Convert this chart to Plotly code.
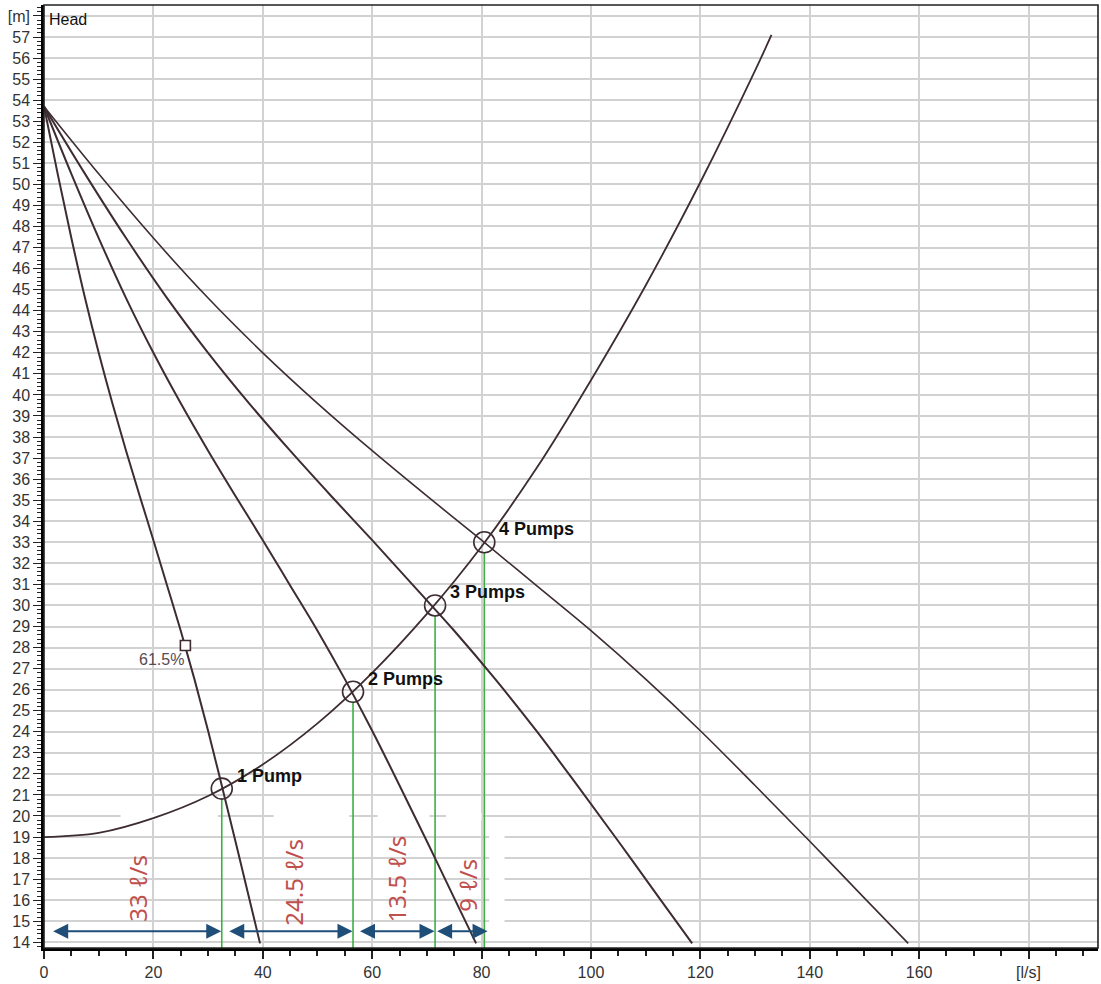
import plotly.graph_objects as go

# ---- data -------------------------------------------------------------
# Pump curves (head in m vs. flow in l/s) for 1..4 identical pumps in parallel
q_1pump = [0, 2.5, 5, 7.5, 10, 12.5, 15, 17.5, 20, 22.5, 25, 27.5, 30, 32.5, 35, 37.5, 39.5]
q_2pump = [0, 5, 10, 15, 20, 25, 30, 35, 40, 45, 50, 55, 60, 65, 70, 75, 79]
q_3pump = [0, 7.5, 15, 22.5, 30, 37.5, 45, 52.5, 60, 67.5, 75, 82.5, 90, 97.5, 105, 112.5, 118.5]
q_4pump = [0, 10, 20, 30, 40, 50, 60, 70, 80, 90, 100, 110, 120, 130, 140, 150, 158]
h_1pump = [53.7, 50.5, 47.45, 44.6, 42.0, 39.6, 37.35, 35.2, 33.1, 30.95, 28.8, 26.5, 24.05, 21.45, 18.8, 16.1, 13.95]
h_2pump = [53.7, 50.5, 47.45, 44.6, 42.0, 39.6, 37.35, 35.2, 33.1, 30.95, 28.8, 26.5, 24.05, 21.45, 18.8, 16.1, 13.95]
h_3pump = [53.7, 50.5, 47.45, 44.6, 42.0, 39.6, 37.35, 35.2, 33.1, 30.95, 28.8, 26.5, 24.05, 21.45, 18.8, 16.1, 13.95]
h_4pump = [53.7, 50.5, 47.45, 44.6, 42.0, 39.6, 37.35, 35.2, 33.1, 30.95, 28.8, 26.5, 24.05, 21.45, 18.8, 16.1, 13.95]

# System curve
q_system = [0, 10, 20, 30, 40, 50, 60, 70, 80, 90, 100, 110, 120, 130, 133]
h_system = [19.0, 19.2, 19.9, 20.95, 22.45, 24.4, 26.8, 29.6, 32.8, 36.5, 40.7, 45.2, 50.1, 55.4, 57.1]

# Operating points
op_labels = ["1 Pump", "2 Pumps", "3 Pumps", "4 Pumps"]
op_q = [32.5, 56.5, 71.5, 80.5]
op_h = [21.3, 25.9, 30.0, 33.0]

# Efficiency point on the single-pump curve
eff_q = [25.85]
eff_h = [28.1]
eff_label = "61.5%"

# Flow increments between operating points
inc_labels = ["33 ℓ/s", "24.5 ℓ/s", "13.5 ℓ/s", "9 ℓ/s"]
inc_label_q = [17.2, 45.6, 64.4, 77.4]
inc_label_h = [16.55, 16.85, 17.0, 16.7]
arrow_from = [1.4, 33.6, 57.5, 71.6]
arrow_to = [32.4, 56.4, 71.4, 81.1]
arrow_h = 14.52

# Axis ticks
y_ticks = list(range(14, 59))
y_ticktext = [str(v) for v in range(14, 58)] + ["[m]"]
x_ticks = [0, 20, 40, 60, 80, 100, 120, 140, 160, 180]
x_ticktext = ["0", "20", "40", "60", "80", "100", "120", "140", "160", "[l/s]"]

X_RANGE = [0, 192.7]
Y_RANGE = [13.73, 58.52]

# ---- styling ---------------------------------------------------------------
CURVE = "#3d2c32"
GREEN = "#3cb043"
BLUE = "#1f4e79"
RED = "#c0504d"
GRID = "#d2d2d2"
TICKFONT = dict(family="Liberation Sans, Arial", size=16, color="#333333")

fig = go.Figure()

# white strips where the callout boxes cover the grid
strips = [(14.0, 31.8, 19.8, 20.15), (42.0, 55.8, 19.8, 20.15),
          (61.0, 70.5, 19.8, 20.15), (73.5, 80.0, 19.8, 20.15),
          (81.4, 84.2, 14.85, 19.3)]
for x0, x1, y0, y1 in strips:
    fig.add_shape(type="rect", x0=x0, x1=x1, y0=y0, y1=y1, xref="x", yref="y",
                  fillcolor="white", line_width=0, layer="between")

# vertical drop lines from each operating point to the flow axis
circle_r = 10 / 21.1  # marker radius in head units
for q, h in zip(op_q, op_h):
    fig.add_trace(go.Scatter(x=[q, q], y=[h - circle_r, Y_RANGE[0]], mode="lines",
                             line=dict(color=GREEN, width=1.6), hoverinfo="skip",
                             showlegend=False))

# pump curves
for qs, hs, w in [(q_1pump, h_1pump, 2.0), (q_2pump, h_2pump, 2.0),
                  (q_3pump, h_3pump, 2.0), (q_4pump, h_4pump, 1.6)]:
    fig.add_trace(go.Scatter(x=qs, y=hs, mode="lines",
                             line=dict(color=CURVE, width=w, shape="spline", smoothing=1.0),
                             showlegend=False))

# system curve
fig.add_trace(go.Scatter(x=q_system, y=h_system, mode="lines",
                         line=dict(color=CURVE, width=1.8, shape="spline", smoothing=1.0),
                         showlegend=False))

# operating point circles
fig.add_trace(go.Scatter(x=op_q, y=op_h, mode="markers",
                         marker=dict(symbol="circle-open", size=21,
                                     line=dict(color=CURVE, width=1.6), color=CURVE),
                         showlegend=False))

# efficiency marker
fig.add_trace(go.Scatter(x=eff_q, y=eff_h, mode="markers",
                         marker=dict(symbol="square", size=10, color="white",
                                     line=dict(color=CURVE, width=1.6)),
                         showlegend=False))

annotations = []
for lab, q, h in zip(op_labels, op_q, op_h):
    annotations.append(dict(x=q, y=h, text=f"<b>{lab}</b>", showarrow=False,
                            xanchor="left", yanchor="middle", xshift=13, yshift=13,
                            font=dict(family="Liberation Sans, Arial", size=18, color="#111111")))

annotations.append(dict(x=eff_q[0], y=eff_h[0], text=eff_label, showarrow=False,
                        xanchor="right", yanchor="middle", xshift=1, yshift=-14,
                        font=dict(family="Liberation Sans, Arial", size=16, color="#574b4f")))

annotations.append(dict(x=0, y=58, text="Head", showarrow=False, xanchor="left",
                        yanchor="middle", xshift=3, yshift=-4,
                        font=dict(family="Liberation Sans, Arial", size=16, color="#111111")))

for lab, q, h in zip(inc_labels, inc_label_q, inc_label_h):
    annotations.append(dict(x=q, y=h, text=lab, showarrow=False, textangle=-90,
                            xanchor="center", yanchor="middle",
                            font=dict(family="Noto Sans, DejaVu Sans", size=24, color=RED)))

for a, b in zip(arrow_from, arrow_to):
    annotations.append(dict(x=b, y=arrow_h, ax=a, ay=arrow_h, xref="x", yref="y",
                            axref="x", ayref="y", text="", showarrow=True,
                            arrowside="end+start", arrowhead=2, startarrowhead=2,
                            arrowsize=1.5, startarrowsize=1.5, arrowwidth=2,
                            arrowcolor=BLUE, standoff=0, startstandoff=0))

fig.update_layout(
    width=1101, height=984, autosize=False,
    margin=dict(l=44, r=3, t=5, b=34),
    paper_bgcolor="white", plot_bgcolor="white",
    annotations=annotations,
    showlegend=False,
    xaxis=dict(range=X_RANGE, tickmode="array", tickvals=x_ticks, ticktext=x_ticktext,
               showgrid=True, gridcolor=GRID, gridwidth=1.6, zeroline=False,
               showline=True, linecolor="black", linewidth=2.5, mirror=False,
               ticks="outside", ticklen=8, tickwidth=1.5, tickcolor="#222222",
               tickfont=TICKFONT,
               minor=dict(dtick=5, tick0=0, ticks="outside", ticklen=5,
                          tickwidth=1.5, tickcolor="#222222", showgrid=False)),
    yaxis=dict(range=Y_RANGE, tickmode="array", tickvals=y_ticks, ticktext=y_ticktext,
               showgrid=True, gridcolor=GRID, gridwidth=1.6, zeroline=False,
               showline=True, linecolor="black", linewidth=2.5, mirror=False,
               ticks="outside", ticklen=8, tickwidth=1.3, tickcolor="#222222",
               tickfont=TICKFONT,
               minor=dict(dtick=0.2, tick0=0, ticks="outside", ticklen=4,
                          tickwidth=1, tickcolor="#222222", showgrid=False)),
)

# outer frame
fig.add_shape(type="rect", xref="paper", yref="paper", x0=0, x1=1, y0=0, y1=1,
              line=dict(color="#222222", width=1.6), layer="above")

fig.write_html("out.html")
